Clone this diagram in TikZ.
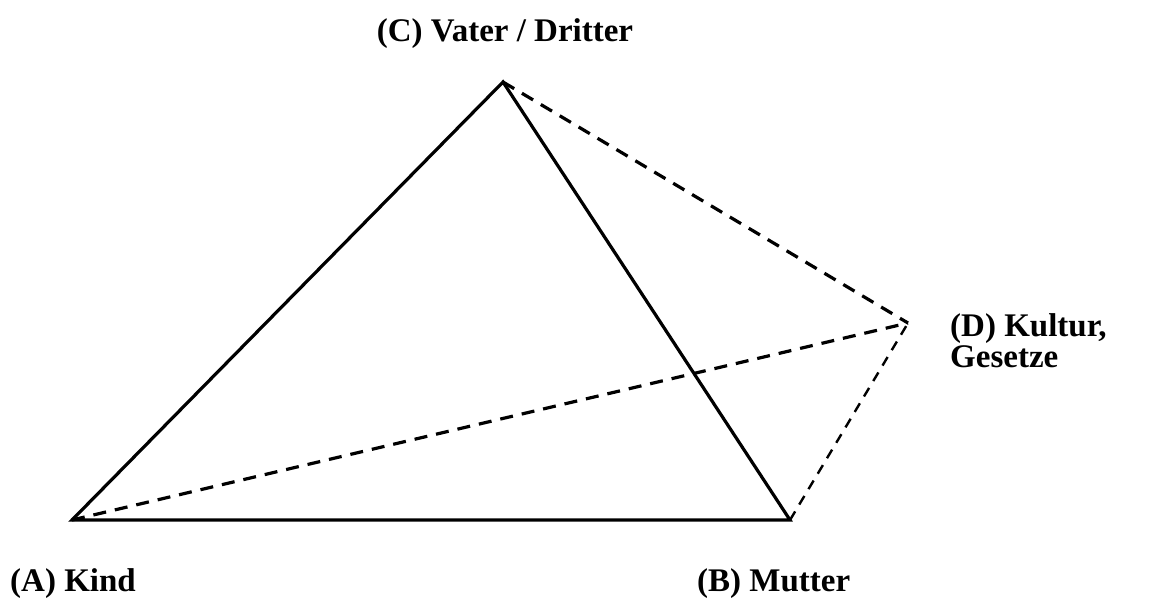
\documentclass[tikz,border=0pt]{standalone}
\usepackage{fontspec}
\setmainfont{Liberation Serif}
\begin{document}
\begin{tikzpicture}[x=1pt,y=-1pt,
  solidedge/.style={line width=3.2pt,line join=miter},
  dashedge/.style={line width=3.2pt,dash pattern=on 13pt off 9pt},
  thindash/.style={line width=2.4pt,dash pattern=on 10pt off 8pt},
  lbl/.style={inner sep=0pt,font=\fontsize{33}{38}\selectfont\bfseries}]
\useasboundingbox (0,0) rectangle (1171,600);
\coordinate (A) at (72,520);
\coordinate (B) at (790,520);
\coordinate (C) at (503,82);
\coordinate (D) at (908,323);
\draw[solidedge] (A) -- (B) -- (C) -- cycle;
\draw[dashedge] (C) -- (D);
\draw[dashedge] (A) -- (D);
\draw[thindash] (B) -- (D);
\node[lbl,anchor=base] (lc) at (505,41) {(C) Vater / Dritter};
\node[lbl,anchor=base west] (la) at (10,591) {(A) Kind};
\node[lbl,anchor=base west] (lb) at (697,591) {(B) Mutter};
\node[lbl,anchor=base west] (ld1) at (950,336) {(D) Kultur,};
\node[lbl,anchor=base west] (ld2) at (950,367) {Gesetze};
\end{tikzpicture}
\end{document}
